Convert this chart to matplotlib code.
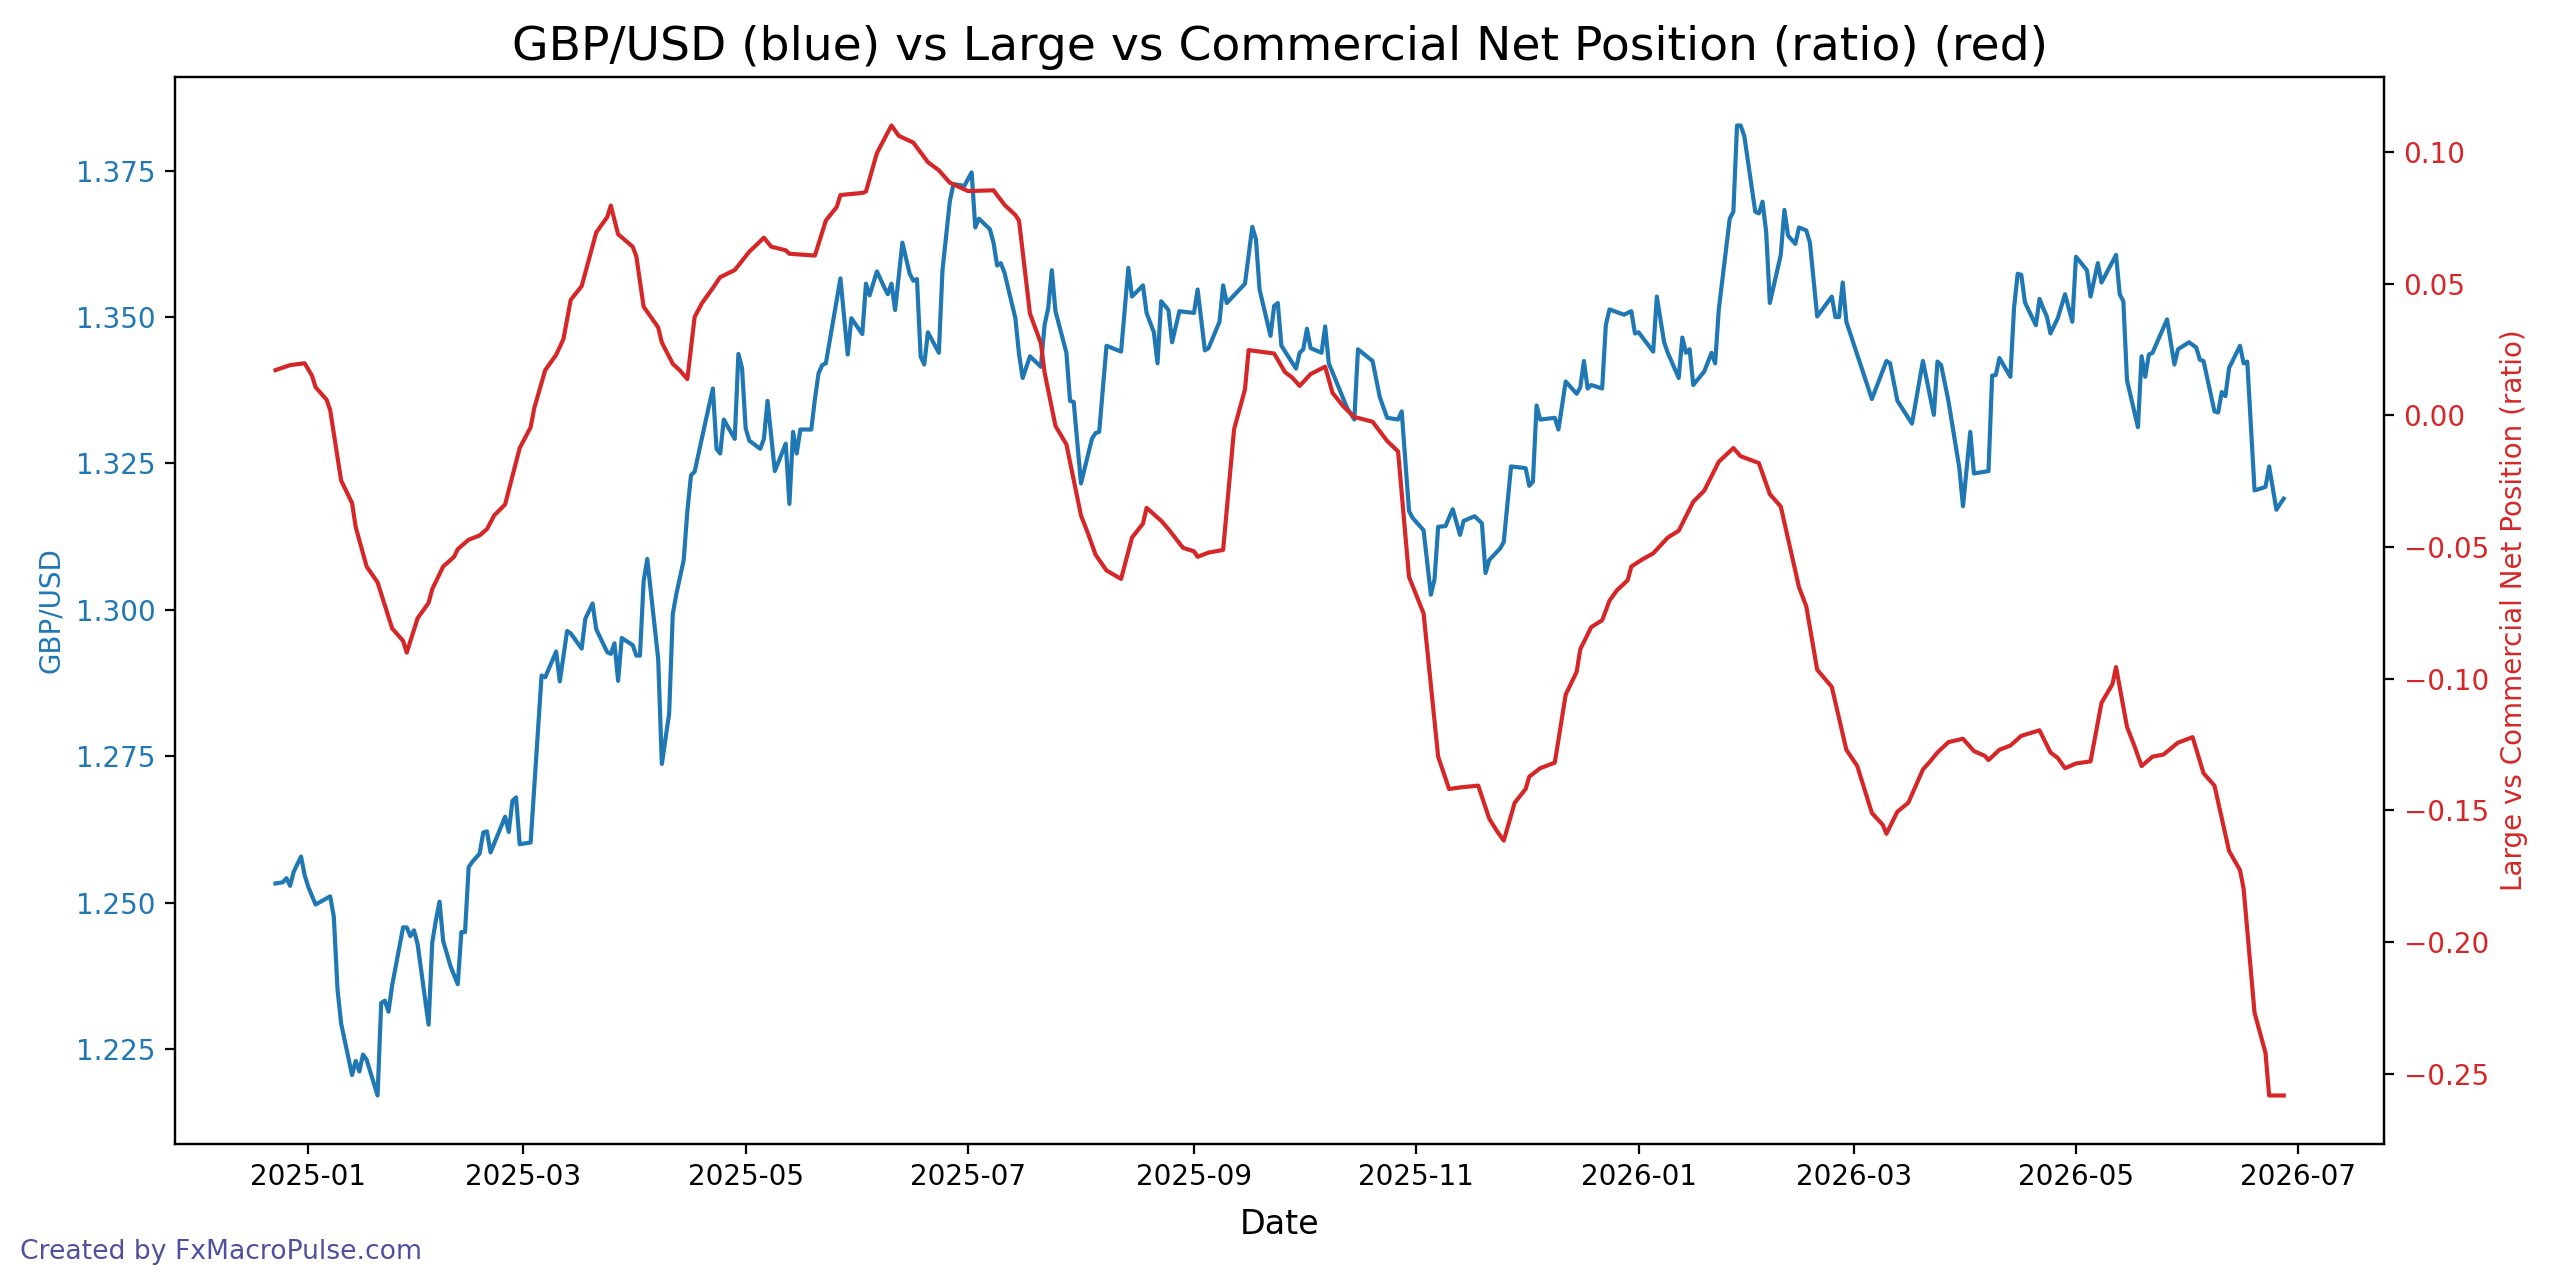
import matplotlib
matplotlib.use('Agg')
import matplotlib.pyplot as plt
import matplotlib.dates as mdates
import pandas as pd

# Fecha de referencia: los datos van en dias desde esta fecha
FECHA_BASE = pd.Timestamp('2025-01-01')

# GBP/USD (dia, precio)
GBPUSD = [
    (-9, 1.2533), (-7, 1.2535), (-6, 1.2542), (-5, 1.2529), (-4, 1.2553), (-2, 1.2579),
    (-1, 1.2547), (0, 1.2527), (2, 1.2497), (6, 1.2511), (7, 1.2476), (8, 1.2353),
    (9, 1.2294), (12, 1.2206), (13, 1.2230), (14, 1.2212), (15, 1.2241), (16, 1.2232),
    (19, 1.2171), (20, 1.2329), (21, 1.2333), (22, 1.2314), (23, 1.2359), (26, 1.2458),
    (27, 1.2458), (28, 1.2443), (29, 1.2453), (30, 1.2429), (33, 1.2292), (34, 1.2432),
    (35, 1.2470), (36, 1.2502), (37, 1.2435), (39, 1.2392), (41, 1.2361), (42, 1.2450),
    (43, 1.2450), (44, 1.2561), (45, 1.2570), (47, 1.2584), (48, 1.2620), (49, 1.2622),
    (50, 1.2586), (54, 1.2647), (55, 1.2621), (56, 1.2674), (57, 1.2680), (58, 1.2600),
    (61, 1.2603), (64, 1.2888), (65, 1.2885), (68, 1.2929), (69, 1.2878),
    (71, 1.2964), (72, 1.2960), (75, 1.2934), (76, 1.2985), (78, 1.3011), (79, 1.2967),
    (82, 1.2928), (83, 1.2925), (84, 1.2943), (85, 1.2879), (86, 1.2952), (89, 1.2940),
    (90, 1.2922), (91, 1.2922), (92, 1.3049), (93, 1.3087), (96, 1.2916), (97, 1.2737),
    (99, 1.2823), (100, 1.2993), (101, 1.3028), (103, 1.3085), (104, 1.3169), (105, 1.3230),
    (106, 1.3236), (109, 1.3322), (111, 1.3378), (112, 1.3275), (113, 1.3267), (114, 1.3325),
    (117, 1.3292), (118, 1.3437), (119, 1.3413), (120, 1.3310), (121, 1.3289), (124, 1.3275),
    (125, 1.3292), (126, 1.3357), (128, 1.3237), (131, 1.3284), (132, 1.3181), (133, 1.3304),
    (134, 1.3267), (135, 1.3308), (138, 1.3308), (139, 1.3360), (140, 1.3404), (141, 1.3418),
    (142, 1.3421), (146, 1.3566), (148, 1.3436), (149, 1.3498),
    (152, 1.3471), (153, 1.3557), (154, 1.3537), (156, 1.3578), (158, 1.3551), (159, 1.3539),
    (160, 1.3557), (161, 1.3512), (163, 1.3627), (165, 1.3574), (166, 1.3562), (167, 1.3565),
    (168, 1.3433), (169, 1.3419), (170, 1.3474), (173, 1.3439), (174, 1.3580), (176, 1.3697),
    (177, 1.3727), (180, 1.3724), (182, 1.3747), (183, 1.3653), (184, 1.3668), (187, 1.3650),
    (188, 1.3627), (189, 1.3588), (190, 1.3592), (191, 1.3576), (194, 1.3498), (195, 1.3437),
    (196, 1.3396), (198, 1.3433), (201, 1.3415), (202, 1.3486), (203, 1.3515), (204, 1.3580),
    (205, 1.3510), (208, 1.3439), (209, 1.3357), (210, 1.3355), (212, 1.3216), (215, 1.3292),
    (216, 1.3302), (217, 1.3304), (219, 1.3451), (223, 1.3441), (225, 1.3584), (226, 1.3535),
    (229, 1.3554), (230, 1.3507), (232, 1.3474), (233, 1.3421),
    (234, 1.3527), (236, 1.3512), (237, 1.3457), (239, 1.3510), (243, 1.3507), (244, 1.3547),
    (246, 1.3443), (247, 1.3447), (250, 1.3492), (251, 1.3554), (252, 1.3524), (257, 1.3557),
    (259, 1.3654), (260, 1.3633), (261, 1.3547), (264, 1.3468), (265, 1.3519), (266, 1.3524),
    (267, 1.3451), (271, 1.3412), (272, 1.3439), (273, 1.3445), (274, 1.3480), (275, 1.3447),
    (278, 1.3439), (279, 1.3484), (280, 1.3421), (285, 1.3345), (287, 1.3325), (288, 1.3445),
    (292, 1.3425), (294, 1.3363), (296, 1.3328), (299, 1.3325), (300, 1.3339), (302, 1.3169),
    (303, 1.3157), (306, 1.3136), (308, 1.3026), (309, 1.3052), (310, 1.3142), (312, 1.3143),
    (314, 1.3172), (316, 1.3128),
    (317, 1.3152), (320, 1.3160), (322, 1.3148), (323, 1.3063), (324, 1.3085), (327, 1.3105),
    (328, 1.3116), (330, 1.3245), (334, 1.3242), (335, 1.3212), (336, 1.3219), (337, 1.3349),
    (338, 1.3325), (342, 1.3328), (343, 1.3308), (345, 1.3390), (348, 1.3369), (349, 1.3380),
    (350, 1.3425), (351, 1.3378), (352, 1.3384), (355, 1.3378), (356, 1.3486), (357, 1.3513),
    (361, 1.3504), (363, 1.3510), (364, 1.3472), (365, 1.3474), (369, 1.3441), (370, 1.3535),
    (372, 1.3457), (373, 1.3439), (376, 1.3396), (377, 1.3465), (378, 1.3439), (379, 1.3445),
    (380, 1.3384), (383, 1.3407), (385, 1.3439), (386, 1.3421), (387, 1.3513), (390, 1.3668),
    (391, 1.3680), (392, 1.3827), (393, 1.3827), (394, 1.3809), (397, 1.3680), (398, 1.3677),
    (399, 1.3697), (400, 1.3645), (401, 1.3524), (404, 1.3606), (405, 1.3683), (406, 1.3639),
    (408, 1.3625), (409, 1.3653), (411, 1.3648), (412, 1.3627), (414, 1.3501), (418, 1.3535),
    (419, 1.3500), (420, 1.3500), (421, 1.3559), (422, 1.3492), (429, 1.3360), (433, 1.3425),
    (434, 1.3421), (436, 1.3357), (440, 1.3318), (443, 1.3425), (446, 1.3333), (447, 1.3424),
    (448, 1.3418), (450, 1.3357), (453, 1.3242), (454, 1.3177), (456, 1.3304), (457, 1.3233),
    (461, 1.3237), (462, 1.3400), (463, 1.3401), (464, 1.3430), (467, 1.3398), (468, 1.3515),
    (469, 1.3574), (470, 1.3572), (471, 1.3525), (474, 1.3486), (475, 1.3531), (476, 1.3515),
    (477, 1.3501), (478, 1.3472), (480, 1.3498),
    (482, 1.3539), (484, 1.3492), (485, 1.3603), (488, 1.3580), (489, 1.3535), (491, 1.3592),
    (492, 1.3559), (496, 1.3606), (497, 1.3539), (498, 1.3527), (499, 1.3392), (502, 1.3312),
    (503, 1.3433), (504, 1.3398), (505, 1.3436), (506, 1.3439), (510, 1.3496), (512, 1.3419),
    (513, 1.3445), (516, 1.3457), (518, 1.3448), (519, 1.3427), (520, 1.3425), (523, 1.3339),
    (524, 1.3337), (525, 1.3372), (526, 1.3365), (527, 1.3413), (530, 1.3451), (531, 1.3421),
    (532, 1.3424), (534, 1.3204), (537, 1.3210), (538, 1.3245), (540, 1.3171), (541, 1.3181),
    (542, 1.3190),
]

# Ratio posicion neta Large vs Commercial (dia, ratio)
COT_RATIO = [
    (-9, 0.0172), (-5, 0.0191), (-1, 0.0198), (1, 0.0151), (2, 0.0107), (5, 0.0060),
    (6, 0.0020), (9, -0.0247), (12, -0.0333), (13, -0.0424), (16, -0.0574), (19, -0.0634),
    (23, -0.0809), (26, -0.0856), (27, -0.0901), (30, -0.0770), (33, -0.0712), (34, -0.0660),
    (37, -0.0574), (40, -0.0537), (41, -0.0508), (44, -0.0472), (47, -0.0456), (49, -0.0432),
    (51, -0.0380), (54, -0.0338), (58, -0.0124), (61, -0.0045), (62, 0.0028), (65, 0.0172),
    (68, 0.0230), (70, 0.0290), (72, 0.0439), (75, 0.0491), (79, 0.0695), (82, 0.0753),
    (83, 0.0797), (85, 0.0688), (89, 0.0641), (90, 0.0604), (92, 0.0413), (96, 0.0334),
    (97, 0.0277), (100, 0.0196), (102, 0.0170), (104, 0.0138), (106, 0.0374), (108, 0.0426),
    (111, 0.0484), (113, 0.0525), (117, 0.0552), (121, 0.0622), (123, 0.0648), (125, 0.0675),
    (127, 0.0641), (131, 0.0627), (132, 0.0614), (139, 0.0607), (142, 0.0740), (145, 0.0792),
    (146, 0.0837), (152, 0.0845), (153, 0.0850), (156, 0.0996), (158, 0.1049), (160, 0.1101),
    (162, 0.1062), (166, 0.1036), (170, 0.0962), (173, 0.0931), (176, 0.0884), (181, 0.0852),
    (188, 0.0855), (191, 0.0800), (194, 0.0761), (195, 0.0740), (198, 0.0387), (201, 0.0274),
    (202, 0.0164), (205, -0.0040), (208, -0.0110), (212, -0.0380), (214, -0.0451), (216, -0.0529),
    (219, -0.0589), (223, -0.0621), (226, -0.0464), (229, -0.0411), (230, -0.0351), (234, -0.0400),
    (236, -0.0432), (240, -0.0503), (243, -0.0516), (244, -0.0537), (247, -0.0521), (251, -0.0511),
    (254, -0.0053), (257, 0.0099), (258, 0.0248), (265, 0.0235), (268, 0.0164), (270, 0.0143),
    (272, 0.0112), (275, 0.0157), (279, 0.0185), (281, 0.0086), (284, 0.0034), (287, -0.0006),
    (292, -0.0024), (296, -0.0097), (299, -0.0137), (302, -0.0613), (306, -0.0752), (310, -0.1296),
    (313, -0.1419), (316, -0.1413), (321, -0.1406), (324, -0.1531), (326, -0.1576), (328, -0.1615),
    (331, -0.1471), (334, -0.1419), (335, -0.1372), (338, -0.1340), (342, -0.1319), (345, -0.1060),
    (348, -0.0974), (349, -0.0888), (352, -0.0804), (355, -0.0778), (357, -0.0704), (359, -0.0665),
    (362, -0.0626), (363, -0.0574), (366, -0.0547), (369, -0.0524), (373, -0.0464), (376, -0.0438),
    (380, -0.0328), (383, -0.0286), (387, -0.0176), (391, -0.0124), (393, -0.0155), (398, -0.0181),
    (401, -0.0299), (404, -0.0346), (409, -0.0652), (411, -0.0725), (414, -0.0966), (418, -0.1031),
    (422, -0.1270), (425, -0.1332), (429, -0.1510), (432, -0.1555), (433, -0.1589), (436, -0.1505),
    (439, -0.1471), (443, -0.1345), (445, -0.1314), (447, -0.1280), (450, -0.1241), (454, -0.1228),
    (457, -0.1275), (460, -0.1293), (461, -0.1309), (464, -0.1270), (467, -0.1254), (470, -0.1217),
    (475, -0.1196), (478, -0.1280), (480, -0.1301), (482, -0.1340), (485, -0.1322), (489, -0.1314),
    (492, -0.1092), (495, -0.1021), (496, -0.0956), (499, -0.1183), (501, -0.1254), (503, -0.1332),
    (506, -0.1296), (509, -0.1288), (513, -0.1243), (517, -0.1222), (520, -0.1359), (523, -0.1406),
    (527, -0.1654), (530, -0.1727), (531, -0.1798), (534, -0.2269), (537, -0.2421), (538, -0.2583),
    (542, -0.2583),
]

TITULO = 'GBP/USD (blue) vs Large vs Commercial Net Position (ratio) (red)'


# Convierte dias desde FECHA_BASE a fechas
def a_fechas(dias):
    return FECHA_BASE + pd.to_timedelta(list(dias), unit='D')


fig = plt.figure(figsize=(12.8, 6.44), dpi=200)
ax1 = fig.add_subplot(111)
fig.subplots_adjust(left=0.0684, right=0.9313, top=0.9402, bottom=0.1118)

# Precio GBP/USD en el eje izquierdo
dias_b, vals_b = zip(*GBPUSD)
ax1.plot(a_fechas(dias_b), vals_b, color='tab:blue', linewidth=1.5)
ax1.set_xlabel('Date', fontsize=12, labelpad=6)
ax1.set_ylabel('GBP/USD', color='tab:blue')
ax1.tick_params(axis='y', labelcolor='tab:blue')

# Ratio COT en el eje derecho
ax2 = ax1.twinx()
dias_r, vals_r = zip(*COT_RATIO)
ax2.plot(a_fechas(dias_r), vals_r, color='tab:red', linewidth=1.5)
ax2.set_ylabel('Large vs Commercial Net Position (ratio)', color='tab:red')
ax2.tick_params(axis='y', labelcolor='tab:red')

ax1.xaxis.set_major_locator(mdates.MonthLocator(bymonth=[1, 3, 5, 7, 9, 11]))
ax1.xaxis.set_major_formatter(mdates.DateFormatter('%Y-%m'))

ax1.set_title(TITULO, fontsize=17)
fig.text(0.008, 0.028, 'Created by FxMacroPulse.com', fontsize=9.6,
         color='#4f4fa0', va='center', ha='left')

fig.savefig('out.png', dpi=200)
